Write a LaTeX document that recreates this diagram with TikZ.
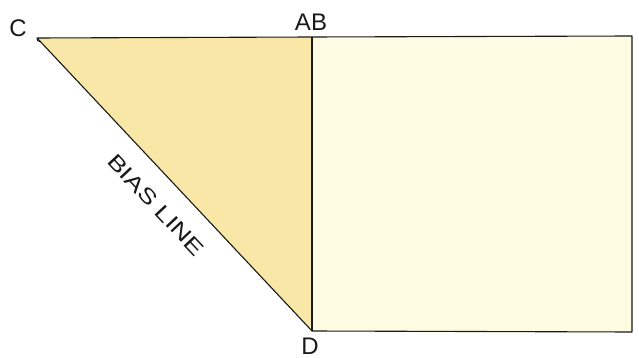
\documentclass[tikz,border=0pt]{standalone}
\usepackage{fontspec}
\setmainfont{Liberation Sans}
\definecolor{tri}{HTML}{F8E7A6}
\definecolor{sq}{HTML}{FDFBE2}
\tikzset{
  edge/.style={draw=black!90, line width=1.1pt, line join=round},
  lab/.style={font=\fontsize{24}{24}\selectfont, text=black!90, inner sep=0pt}
}
\begin{document}
\begin{tikzpicture}[x=1pt,y=-1pt]
\useasboundingbox (0,0) rectangle (639,358);
\coordinate (C) at (37,38);
\coordinate (AB) at (312,37);
\coordinate (D) at (312,331);
\coordinate (R1) at (632,36);
\coordinate (R2) at (632,332);
\fill[tri] (C) -- (AB) -- (D) -- cycle;
\fill[sq] (AB) -- (R1) -- (R2) -- (D) -- cycle;
\draw[edge] (C) -- (AB) -- (R1) -- (R2) -- (D) -- cycle;
\draw[edge] (AB) -- (D);
\draw[edge, line width=0.9pt] (C) ++(0,1) arc[start angle=180, end angle=60, radius=2.5];
\node[lab] (lc) at (18,28) {C};
\node[lab] (lab) at (311,22) {AB};
\node[lab] (ld) at (310,346) {D};
\node[lab, font=\fontsize{21}{21}\selectfont, rotate=-46.8] (bias) at (156,205) {\scalebox{1.3}[1]{BIAS LINE}};
\end{tikzpicture}
\end{document}
